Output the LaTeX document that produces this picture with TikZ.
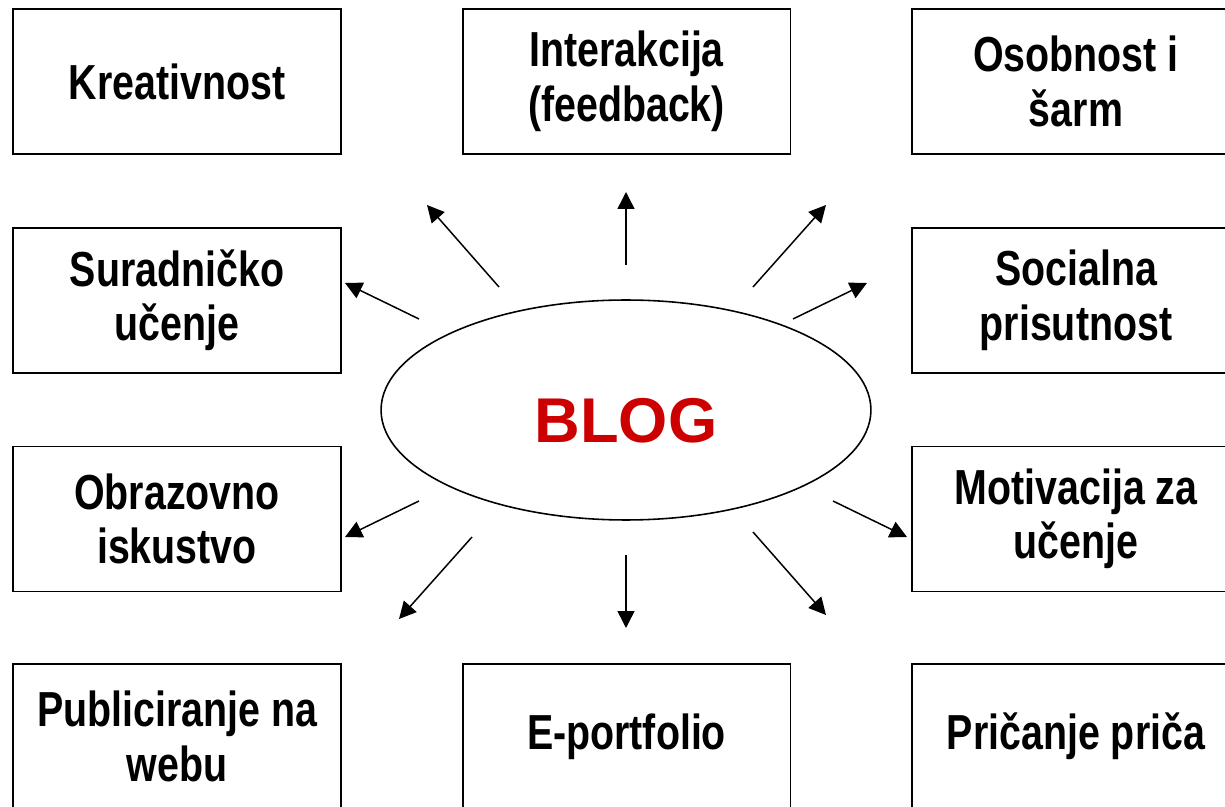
\documentclass[tikz,border=0pt]{standalone}
\usepackage{fontspec}
\setmainfont{Liberation Sans}
\newfontfamily\narrowfont{Liberation Sans}[FakeStretch=0.8]
\usetikzlibrary{shapes.geometric,arrows.meta}
\definecolor{blogred}{RGB}{204,0,0}
\begin{document}
\begin{tikzpicture}[x=0.02cm, y=-0.02cm,
  topic/.style={draw,line width=1.1pt,minimum width=6.56cm,minimum height=2.9cm,inner sep=2pt,align=center,font=\narrowfont\bfseries\fontsize{28}{31}\selectfont},
  spoke/.style={-{Triangle[length=0.34cm,width=0.34cm]},line width=0.85pt}]
\useasboundingbox (0,0) rectangle (1225,807);
\clip (0,0) rectangle (1225,807);
% centre
\node[ellipse,draw,line width=0.9pt,minimum width=9.8cm,minimum height=4.4cm,inner sep=0pt,text height=1.3cm,text depth=0pt,text=blogred,font=\bfseries\fontsize{36}{40}\selectfont] (blog) at (626,410) {BLOG};
% topics round the blog
\node[topic] (kreat) at (177,81.5) {Kreativnost};
\node[topic] (inter) at (626.5,81.5) {Interakcija\\(feedback)};
\node[topic] (osob) at (1076,81.5) {Osobnost i\\šarm};
\node[topic] (surad) at (177,300.5) {Suradničko\\učenje};
\node[topic] (soc) at (1076,300.5) {Socialna\\prisutnost};
\node[topic] (obraz) at (177,519) {Obrazovno\\iskustvo};
\node[topic] (motiv) at (1076,519) {Motivacija za\\učenje};
\node[topic] (publ) at (177,736.5) {Publiciranje na\\webu};
\node[topic] (eport) at (626.5,736.5) {E-portfolio};
\node[topic] (pric) at (1076,736.5) {Pričanje priča};
% spokes
\foreach \n/\sx/\sy/\tx/\ty in {1/499/287/427/205, 2/626/265/626/192, 3/753/287/826/205,
  4/419/319/345/283, 5/793/319/867/283, 6/419/501/345/537, 7/833/501/907/537,
  8/472/537/399/619, 9/626/555/626/628, 10/753/532/826/615}{
  \coordinate (s\n) at (\sx,\sy);
  \coordinate (t\n) at (\tx,\ty);
  \draw[spoke] (s\n) -- (t\n);
}
\end{tikzpicture}
\end{document}
